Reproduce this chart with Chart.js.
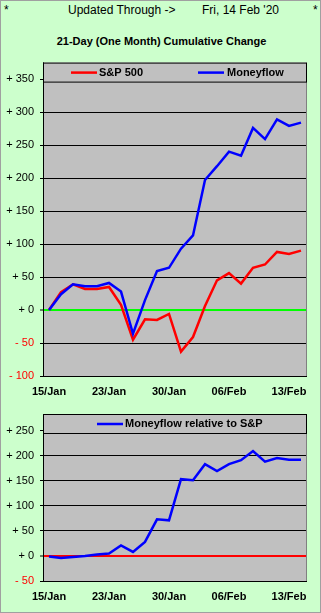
<!DOCTYPE html>
<html>
<head>
<meta charset="utf-8">
<script src="https://cdn.jsdelivr.net/npm/chart.js@4.4.1/dist/chart.umd.min.js"></script>
<style>
  html, body { margin: 0; padding: 0; }
  body {
    width: 319px; height: 611px; position: relative; overflow: hidden;
    background: #ccffcc; border: 1px solid #a0a0a0;
    font-family: "Liberation Sans", Arial, sans-serif; color: #000;
  }
  .txt { position: absolute; white-space: nowrap; line-height: 1; }
  canvas { position: absolute; left: -1px; }
</style>
</head>
<body>
<div class="txt" style="left:3px;top:3px;font-size:12px">*</div>
<div class="txt" style="left:67px;top:3px;font-size:12px">Updated Through -&gt;</div>
<div class="txt" style="left:201px;top:3px;font-size:12px">Fri, 14 Feb '20</div>
<div class="txt" style="left:312px;top:3px;font-size:12px">*</div>
<div class="txt" style="left:0;width:321px;text-align:center;top:35px;font-size:11px;font-weight:bold">21-Day (One Month) Cumulative Change</div>

<canvas id="cumChart" width="321" height="350" style="top:49px"></canvas>
<canvas id="relChart" width="321" height="213" style="top:399px"></canvas>

<script>
// trading days, 15 Jan - 14 Feb 2020
const dates = ["15/Jan", "16/Jan", "17/Jan", "21/Jan", "22/Jan", "23/Jan", "24/Jan",
  "27/Jan", "28/Jan", "29/Jan", "30/Jan", "31/Jan", "03/Feb", "04/Feb", "05/Feb",
  "06/Feb", "07/Feb", "10/Feb", "11/Feb", "12/Feb", "13/Feb", "14/Feb"];
const labelEvery = 5;

const sp500 = [0, 27, 39, 32, 32, 35, 8, -45, -14, -15, -6, -63, -41, 6, 45, 56, 40, 64, 69, 88, 85, 90];
const moneyflow = [0, 24, 39, 36, 36, 41, 28, -36, 15, 59, 64, 93, 113, 197, 218, 240, 234, 276, 259, 289, 279, 284];
const relative = [-1, -4, -2, 0, 3, 5, 21, 8, 28, 73, 71, 153, 151, 183, 169, 183, 191, 209, 188, 195, 192, 192];

const cumTicks = [-100, -50, 0, 50, 100, 150, 200, 250, 300, 350];
const relTicks = [-50, 0, 50, 100, 150, 200, 250];

Chart.defaults.font.family = '"Liberation Sans", Arial, sans-serif';
Chart.defaults.color = '#000';
Chart.defaults.animation = false;

function fmtTick(v) {
    return (v < 0 ? "- " : "+ ") + Math.abs(v);
}

// grey plot area, legend strip across the top, grey right edge
const plotBox = {
    id: "plotBox",
    beforeDraw(chart) {
        const a = chart.chartArea, ctx = chart.ctx;
        ctx.save();
        ctx.fillStyle = "#c0c0c0";
        ctx.fillRect(a.left, a.top, a.right - a.left, a.bottom - a.top);
        ctx.restore();
    },
    afterDraw(chart, args, opts) {
        const a = chart.chartArea, ctx = chart.ctx;
        ctx.save();
        ctx.strokeStyle = "#808080";
        ctx.lineWidth = 1;
        ctx.beginPath();
        ctx.moveTo(a.right - 0.5, a.top);
        ctx.lineTo(a.right - 0.5, a.bottom);
        ctx.stroke();

        ctx.fillStyle = "#c0c0c0";
        ctx.fillRect(a.left, a.top, a.right - a.left, opts.height);
        ctx.strokeStyle = "#000";
        ctx.strokeRect(a.left + 0.5, a.top + 0.5, a.right - a.left - 1, opts.height);

        const ly = a.top + opts.height / 2 + 0.5;
        ctx.font = "bold 11px " + Chart.defaults.font.family;
        ctx.textBaseline = "middle";
        opts.items.forEach((it, i) => {
            const ds = chart.data.datasets[i];
            ctx.strokeStyle = ds.borderColor;
            ctx.lineWidth = 2.5;
            ctx.beginPath();
            ctx.moveTo(it.line, ly);
            ctx.lineTo(it.line + 26, ly);
            ctx.stroke();
            ctx.fillStyle = "#000";
            ctx.fillText(ds.label, it.text, ly);
        });
        ctx.restore();
    }
};

function makeChart(id, datasets, ticks, yMin, yMax, zeroColor, items, padTop, xHeight) {
    return new Chart(document.getElementById(id).getContext("2d"), {
        type: "line",
        data: { labels: dates, datasets: datasets },
        plugins: [plotBox],
        options: {
            responsive: false,
            layout: { padding: { top: padTop, right: 14, left: 0, bottom: 0 } },
            elements: {
                point: { radius: 0 },
                line: { borderWidth: 2.5, tension: 0 }
            },
            plugins: {
                legend: { display: false },
                tooltip: { enabled: false },
                plotBox: { height: 19, items: items }
            },
            scales: {
                x: {
                    type: "category",
                    offset: true,
                    grid: { display: false, drawTicks: false },
                    border: { display: false },
                    afterFit: s => { s.height = xHeight; },
                    ticks: {
                        autoSkip: false,
                        maxRotation: 0,
                        padding: 9,
                        font: { size: 11, weight: "bold" },
                        callback: (v, i) => i % labelEvery === 0 ? dates[i] : ""
                    }
                },
                y: {
                    min: yMin,
                    max: yMax,
                    afterBuildTicks: s => { s.ticks = ticks.map(v => ({ value: v })); },
                    afterFit: s => { s.width = 43; },
                    border: { color: "#000", width: 1 },
                    grid: {
                        color: c => c.tick && c.tick.value === 0 ? zeroColor : "#000",
                        lineWidth: c => c.tick && c.tick.value === 0 ? 2 : 1,
                        tickLength: 3,
                        tickColor: "#000",
                        tickWidth: 1
                    },
                    ticks: {
                        padding: 6,
                        font: { size: 11 },
                        color: c => c.tick && c.tick.value < 0 ? "#ff0000" : "#000",
                        callback: v => fmtTick(v)
                    }
                }
            }
        }
    });
}

makeChart("cumChart", [
    { label: "S&P 500", data: sp500, borderColor: "#ff0000", order: 1 },
    { label: "Moneyflow", data: moneyflow, borderColor: "#0000ff", order: 0 }
], cumTicks, -100, 375, "#00ff00", [{ line: 71, text: 99 }, { line: 198, text: 227 }], 11, 24);

makeChart("relChart", [
    { label: "Moneyflow relative to S&P", data: relative, borderColor: "#0000ff" }
], relTicks, -50, 283, "#ff0000", [{ line: 97, text: 125 }], 14, 32);
</script>
</body>
</html>
